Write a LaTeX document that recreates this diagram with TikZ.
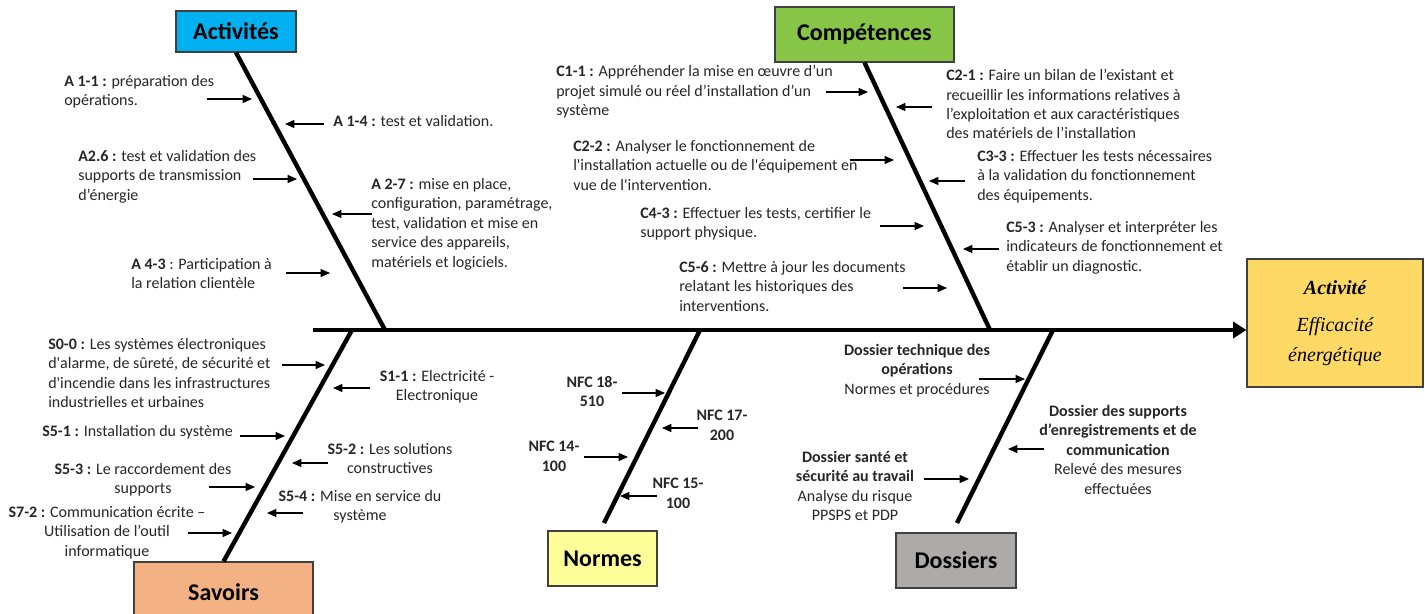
\documentclass[tikz,border=0pt]{standalone}
\usepackage{fontspec}
\setmainfont{Carlito}
\newfontfamily\timesfont{Liberation Serif}
\usetikzlibrary{arrows.meta}
\definecolor{actblue}{HTML}{00B0F0}
\definecolor{compgreen}{HTML}{86C546}
\definecolor{savorange}{HTML}{F4B183}
\definecolor{normyellow}{HTML}{FFFF99}
\definecolor{dosgray}{HTML}{AEAAAA}
\definecolor{effgold}{HTML}{FFD966}
\definecolor{txt}{HTML}{262626}
\newcommand{\sq}{\textquotesingle}
\tikzset{
  lbl/.style={font=\fontsize{12}{14.6}\selectfont, text=txt, inner sep=0pt, align=left, anchor=north west},
  lblc/.style={lbl, align=center, anchor=north},
  arr/.style={line width=0.9pt, draw=black, -{Triangle[length=7pt,width=6pt]}},
  bone/.style={line width=3.3pt, draw=black},
  spine/.style={line width=3.2pt, draw=black, -{Triangle[length=10pt,width=12pt]}},
  catbox/.style={draw=black!75, line width=0.8pt, inner sep=0pt, font=\fontsize{18}{20}\selectfont\bfseries, text=black},
  effbox/.style={draw=black!75, line width=0.8pt, fill=effgold, inner sep=0pt, align=center, font=\timesfont\itshape\fontsize{15}{22.5}\selectfont, text=black}
}
\begin{document}
\begin{tikzpicture}[x=0.75pt,y=-0.75pt]
\useasboundingbox (0,0) rectangle (1425,614);

% category boxes and effect
\node[catbox, fill=actblue, minimum width=90pt, minimum height=30.75pt] (act) at (236,31.5) {Activités};
\node[catbox, fill=compgreen, minimum width=134.25pt, minimum height=41.25pt] (comp) at (864.5,34.5) {Compétences};
\node[catbox, fill=savorange, minimum width=134.25pt, minimum height=45pt] (sav) at (223.5,592) {Savoirs};
\node[catbox, fill=normyellow, minimum width=81.75pt, minimum height=41.25pt] (norm) at (602.5,558.5) {Normes};
\node[catbox, fill=dosgray, minimum width=90pt, minimum height=41.25pt] (dos) at (956,560.5) {Dossiers};
\node[effbox, minimum width=132pt, minimum height=96pt] (eff) at (1335,323) {\textbf{Activité}\\[5pt]Efficacité\\énergétique};

% spine and bones
\coordinate (sp0) at (313,330);
\coordinate (jA) at (385,330);
\coordinate (jC) at (990,330);
\coordinate (jS) at (352,330);
\coordinate (jN) at (700,330);
\coordinate (jD) at (1053,330);
\coordinate (eN) at (604,523);
\coordinate (eD) at (957,523);
\draw[spine] (sp0) -- (sp0 -| eff.west);
\draw[bone] (act.south) -- (jA);
\draw[bone] (comp.south) -- (jC);
\draw[bone] (jS) -- (sav.north);
\draw[bone] (jN) -- (eN);
\draw[bone] (jD) -- (eD);

% Activites labels
\node[lbl] (a11) at (64,75) {\textbf{A 1-1 :} préparation des\\opérations.};
\node[lbl] (a14) at (333,115) {\textbf{A 1-4 :} test et validation.};
\node[lbl] (a26) at (78,150) {\textbf{A2.6 :} test et validation des\\supports de transmission\\d’énergie};
\node[lbl] (a27) at (371,178) {\textbf{A 2-7 :} mise en place,\\configuration, paramétrage,\\test, validation et mise en\\service des appareils,\\matériels et logiciels.};
\node[lbl] (a43) at (131,258) {\textbf{A 4-3} : Participation à\\la relation clientèle};
\coordinate (a11s) at (207,99);  \coordinate (a11e) at (252,99);
\coordinate (a14s) at (324,124); \coordinate (a14e) at (285,124);
\coordinate (a26s) at (253,179); \coordinate (a26e) at (297,179);
\coordinate (a27s) at (372,214); \coordinate (a27e) at (332,214);
\coordinate (a43s) at (286,273); \coordinate (a43e) at (330,273);
\draw[arr] (a11s) -- (a11e);
\draw[arr] (a14s) -- (a14e);
\draw[arr] (a26s) -- (a26e);
\draw[arr] (a27s) -- (a27e);
\draw[arr] (a43s) -- (a43e);

% Competences labels
\node[lbl] (c11) at (556,65) {\textbf{C1-1 :} Appréhender la mise en œuvre d’un\\projet simulé ou réel d’installation d’un\\système};
\node[lbl] (c22) at (573,140) {\textbf{C2-2 :} Analyser le fonctionnement de\\l\sq installation actuelle ou de l\sq équipement en\\vue de l\sq intervention.};
\node[lbl] (c43) at (640,207) {\textbf{C4-3 :} Effectuer les tests, certifier le\\support physique.};
\node[lbl] (c56) at (679,261) {\textbf{C5-6 :} Mettre à jour les documents\\relatant les historiques des\\interventions.};
\node[lbl] (c21) at (946,69) {\textbf{C2-1 :} Faire un bilan de l’existant et\\recueillir les informations relatives à\\l’exploitation et aux caractéristiques\\des matériels de l’installation};
\node[lbl] (c33) at (977,150) {\textbf{C3-3 :} Effectuer les tests nécessaires\\à la validation du fonctionnement\\des équipements.};
\node[lbl] (c53) at (1006,221) {\textbf{C5-3 :} Analyser et interpréter les\\indicateurs de fonctionnement et\\établir un diagnostic.};
\coordinate (c11s) at (826,92);  \coordinate (c11e) at (868,92);
\coordinate (c22s) at (850,160); \coordinate (c22e) at (894,160);
\coordinate (c43s) at (880,226); \coordinate (c43e) at (924,226);
\coordinate (c56s) at (903,288); \coordinate (c56e) at (947,288);
\coordinate (c21s) at (932,107); \coordinate (c21e) at (896,107);
\coordinate (c33s) at (965,181); \coordinate (c33e) at (929,181);
\coordinate (c53s) at (999,249); \coordinate (c53e) at (963,249);
\draw[arr] (c11s) -- (c11e);
\draw[arr] (c22s) -- (c22e);
\draw[arr] (c43s) -- (c43e);
\draw[arr] (c56s) -- (c56e);
\draw[arr] (c21s) -- (c21e);
\draw[arr] (c33s) -- (c33e);
\draw[arr] (c53s) -- (c53e);

% Savoirs labels
\node[lbl] (s00) at (48,338) {\textbf{S0-0 :} Les systèmes électroniques\\d\sq alarme, de sûreté, de sécurité et\\d\sq incendie dans les infrastructures\\industrielles et urbaines};
\node[lblc] (s11) at (437,370) {\textbf{S1-1 :} Electricité -\\Electronique};
\node[lbl] (s51) at (42,425) {\textbf{S5-1 :} Installation du système};
\node[lblc] (s52) at (390,443) {\textbf{S5-2 :} Les solutions\\constructives};
\node[lblc] (s53) at (143,463) {\textbf{S5-3 :} Le raccordement des\\supports};
\node[lblc] (s54) at (360,490) {\textbf{S5-4 :} Mise en service du\\système};
\node[lblc] (s72) at (107,506) {\textbf{S7-2 :} Communication écrite –\\Utilisation de l’outil\\informatique};
\coordinate (s00s) at (282,365); \coordinate (s00e) at (325,365);
\coordinate (s11s) at (370,388); \coordinate (s11e) at (333,388);
\coordinate (s51s) at (240,436); \coordinate (s51e) at (285,436);
\coordinate (s52s) at (328,463); \coordinate (s52e) at (292,463);
\coordinate (s53s) at (209,487); \coordinate (s53e) at (255,487);
\coordinate (s54s) at (303,513); \coordinate (s54e) at (267,513);
\coordinate (s72s) at (188,533); \coordinate (s72e) at (232,533);
\draw[arr] (s00s) -- (s00e);
\draw[arr] (s11s) -- (s11e);
\draw[arr] (s51s) -- (s51e);
\draw[arr] (s52s) -- (s52e);
\draw[arr] (s53s) -- (s53e);
\draw[arr] (s54s) -- (s54e);
\draw[arr] (s72s) -- (s72e);

% Normes labels
\node[lblc, font=\fontsize{12}{14.6}\selectfont\bfseries] (n18) at (592,376) {NFC 18-\\510};
\node[lblc, font=\fontsize{12}{14.6}\selectfont\bfseries] (n17) at (722,410) {NFC 17-\\200};
\node[lblc, font=\fontsize{12}{14.6}\selectfont\bfseries] (n14) at (554,441) {NFC 14-\\100};
\node[lblc, font=\fontsize{12}{14.6}\selectfont\bfseries] (n15) at (678,478) {NFC 15-\\100};
\coordinate (n18s) at (622,393); \coordinate (n18e) at (665,393);
\coordinate (n17s) at (698,428); \coordinate (n17e) at (662,428);
\coordinate (n14s) at (584,457); \coordinate (n14e) at (628,457);
\coordinate (n15s) at (657,496); \coordinate (n15e) at (620,496);
\draw[arr] (n18s) -- (n18e);
\draw[arr] (n17s) -- (n17e);
\draw[arr] (n14s) -- (n14e);
\draw[arr] (n15s) -- (n15e);

% Dossiers labels
\node[lblc] (d1) at (917,344) {\textbf{Dossier technique des}\\\textbf{opérations}\\Normes et procédures};
\node[lblc] (d2) at (1118,405) {\textbf{Dossier des supports}\\\textbf{d’enregistrements et de}\\\textbf{communication}\\Relevé des mesures\\effectuées};
\node[lblc] (d3) at (855,451) {\textbf{Dossier santé et}\\\textbf{sécurité au travail}\\Analyse du risque\\PPSPS et PDP};
\coordinate (d1s) at (979,379);  \coordinate (d1e) at (1025,379);
\coordinate (d2s) at (1044,449); \coordinate (d2e) at (1008,449);
\coordinate (d3s) at (924,479);  \coordinate (d3e) at (969,479);
\draw[arr] (d1s) -- (d1e);
\draw[arr] (d2s) -- (d2e);
\draw[arr] (d3s) -- (d3e);
\end{tikzpicture}
\end{document}
